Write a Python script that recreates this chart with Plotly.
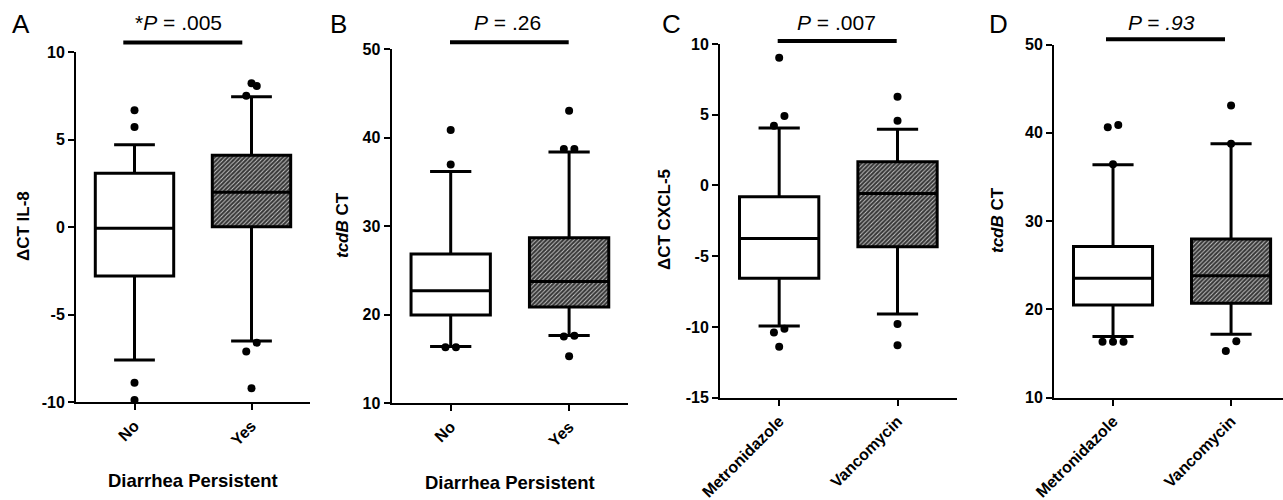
import plotly.graph_objects as go

W, H = 1283, 500
FONT = "Liberation Sans, Arial, Helvetica, sans-serif"

# ---------------- data ----------------
cats_persist = ["No", "Yes"]
cats_treat = ["Metronidazole", "Vancomycin"]

# Panel A: ΔCT IL-8 vs diarrhea persistent
a_q1 = [-2.78, 0.03]
a_median = [-0.06, 2.00]
a_q3 = [3.09, 4.11]
a_low = [-7.58, -6.50]
a_high = [4.72, 7.46]
a_out_no = [6.69, 5.73, -8.88, -9.87]
a_out_yes = [8.23, 8.07, 7.52, -6.59, -7.10, -9.20]

# Panel B: tcdB CT vs diarrhea persistent
b_q1 = [19.98, 20.88]
b_median = [22.72, 23.74]
b_q3 = [26.86, 28.70]
b_low = [16.40, 17.65]
b_high = [36.16, 38.37]
b_out_no = [40.86, 36.95, 16.33, 16.33]
b_out_yes = [43.04, 38.71, 38.71, 17.62, 17.55, 15.30]

# Panel C: ΔCT CXCL-5 vs treatment
c_q1 = [-6.56, -4.33]
c_median = [-3.74, -0.56]
c_q3 = [-0.79, 1.68]
c_low = [-9.93, -9.09]
c_high = [4.06, 3.97]
c_out_met = [9.03, 4.91, 4.23, -10.12, -10.40, -11.40]
c_out_van = [6.28, 4.58, -9.79, -11.30]

# Panel D: tcdB CT vs treatment
d_q1 = [20.51, 20.70]
d_median = [23.53, 23.80]
d_q3 = [27.13, 27.96]
d_low = [16.92, 17.18]
d_high = [36.39, 38.77]
d_out_met = [40.89, 40.62, 36.43, 16.35, 16.35, 16.35]
d_out_van = [43.08, 38.77, 16.39, 15.30]

p_texts = ["*<i>P</i> = .005", "<i>P</i> = .26", "<i>P</i> = .007", "<i>P = .93</i>"]
y_titles = ["ΔCT IL-8", "<i>tcdB</i> CT", "ΔCT CXCL-5", "<i>tcdB</i> CT"]
x_title = "Diarrhea Persistent"
letters = ["A", "B", "C", "D"]

# ---------------- layout spec (pixels) ----------------
panels = [
    dict(cats=cats_persist, q1=a_q1, med=a_median, q3=a_q3, lo=a_low, hi=a_high,
         outs=[a_out_no, a_out_yes], yr=[-10, 10], dt=5,
         xpx=(76, 310), ypx=(52.3, 402.3), xr=[-0.5, 1.5]),
    dict(cats=cats_persist, q1=b_q1, med=b_median, q3=b_q3, lo=b_low, hi=b_high,
         outs=[b_out_no, b_out_yes], yr=[10, 50], dt=10,
         xpx=(391.5, 628.3), ypx=(49, 403.3), xr=[-0.5, 1.5]),
    dict(cats=cats_treat, q1=c_q1, med=c_median, q3=c_q3, lo=c_low, hi=c_high,
         outs=[c_out_met, c_out_van], yr=[-15, 10], dt=5,
         xpx=(720, 956.7), ypx=(44, 397.7), xr=[-0.5, 1.5]),
    dict(cats=cats_treat, q1=d_q1, med=d_median, q3=d_q3, lo=d_low, hi=d_high,
         outs=[d_out_met, d_out_van], yr=[10, 50], dt=10,
         xpx=(1054, 1283), ypx=(44.5, 397.7), xr=[-0.5, 1.44]),
]

sig_bars = [(123.3, 242.3, 42.5), (450, 568.7, 42.3), (777.7, 896.7, 41.0), (1106, 1225, 39.3)]
p_pos = [(178, 22), (507, 22), (836, 22), (1161, 22)]
letter_pos = [(21, 24), (338, 24), (671, 24), (998, 24)]
ytitle_pos = [(24, 226), (343, 225), (665, 220), (998, 220)]
xtitle_pos = [(193, 480), (510, 482)]

BOX_W = 0.67
MARK = 8
SPREAD_PX = 10.5


def fx(p):
    return p / W


def fy(p):
    return 1 - p / H


def spread(values, ypx_per_unit, xpx_per_unit):
    """Place points that overlap vertically side by side (computed offsets)."""
    vals = sorted(values)
    clusters = []
    for v in vals:
        if clusters and (v - clusters[-1][0]) * ypx_per_unit < 10:
            clusters[-1].append(v)
        else:
            clusters.append([v])
    xs, ys = [], []
    for cl in clusters:
        n = len(cl)
        for i, v in enumerate(cl):
            xs.append((i - (n - 1) / 2) * SPREAD_PX / xpx_per_unit)
            ys.append(v)
    return xs, ys


fig = go.Figure()
layout = {}
for k, p in enumerate(panels):
    sfx = "" if k == 0 else str(k + 1)
    xa, ya = "x" + sfx, "y" + sfx
    x0, x1 = p["xpx"]
    yt, yb = p["ypx"]
    xpu = (x1 - x0) / (p["xr"][1] - p["xr"][0])
    ypu = (yb - yt) / (p["yr"][1] - p["yr"][0])
    for i in range(2):
        if i == 1:
            fig.add_trace(go.Bar(
                x=[i], y=[p["q3"][i] - p["q1"][i]], base=[p["q1"][i]], width=[BOX_W],
                marker=dict(color="#363636", line=dict(width=0),
                            pattern=dict(shape="/", fgcolor="#c4c4c4", bgcolor="#363636",
                                         size=3, solidity=0.33, fillmode="replace")),
                xaxis=xa, yaxis=ya, showlegend=False, hoverinfo="skip"))
        fig.add_trace(go.Box(
            x=[i], q1=[p["q1"][i]], median=[p["med"][i]], q3=[p["q3"][i]],
            lowerfence=[p["lo"][i]], upperfence=[p["hi"][i]],
            width=BOX_W, whiskerwidth=0.52, boxpoints=False,
            fillcolor="white" if i == 0 else "rgba(0,0,0,0)",
            line=dict(color="black", width=3),
            xaxis=xa, yaxis=ya, showlegend=False))
        ox, oy = spread(p["outs"][i], ypu, xpu)
        fig.add_trace(go.Scatter(
            x=[i + o for o in ox], y=oy, mode="markers",
            marker=dict(color="black", size=MARK, line=dict(width=0)),
            xaxis=xa, yaxis=ya, showlegend=False))
    ticks = list(range(p["yr"][0], p["yr"][1] + 1, p["dt"]))
    layout["xaxis" + sfx] = dict(
        domain=[fx(x0), fx(x1)], range=p["xr"], anchor=ya, automargin=False,
        tickvals=[0, 1], ticktext=p["cats"], tickangle=-45,
        tickfont=dict(family=FONT, size=16, color="black", weight="bold"),
        showline=True, linewidth=2, linecolor="black", ticks="outside",
        ticklen=6, tickwidth=2, tickcolor="black", showgrid=False, zeroline=False)
    layout["yaxis" + sfx] = dict(
        domain=[fy(yb), fy(yt)], range=p["yr"], anchor=xa, automargin=False,
        tickvals=ticks, ticktext=[str(t) for t in ticks],
        tickfont=dict(family=FONT, size=16, color="black", weight="bold"),
        showline=True, linewidth=2, linecolor="black", ticks="outside",
        ticklen=6, tickwidth=2, tickcolor="black", showgrid=False, zeroline=False)

shapes = []
for (a, b, y) in sig_bars:
    shapes.append(dict(type="line", xref="paper", yref="paper",
                       x0=fx(a), x1=fx(b), y0=fy(y), y1=fy(y),
                       line=dict(color="black", width=4)))

ann = []
for t, (x, y) in zip(p_texts, p_pos):
    ann.append(dict(text=t, x=fx(x), y=fy(y), xref="paper", yref="paper",
                    showarrow=False, xanchor="center", yanchor="middle",
                    font=dict(family=FONT, size=21, color="black")))
for t, (x, y) in zip(letters, letter_pos):
    ann.append(dict(text=t, x=fx(x), y=fy(y), xref="paper", yref="paper",
                    showarrow=False, xanchor="center", yanchor="middle",
                    font=dict(family=FONT, size=26, color="black")))
for t, (x, y) in zip(y_titles, ytitle_pos):
    ann.append(dict(text=t, x=fx(x), y=fy(y), xref="paper", yref="paper",
                    showarrow=False, xanchor="center", yanchor="middle", textangle=-90,
                    font=dict(family=FONT, size=17, color="black", weight="bold")))
for (x, y) in xtitle_pos:
    ann.append(dict(text=x_title, x=fx(x), y=fy(y), xref="paper", yref="paper",
                    showarrow=False, xanchor="center", yanchor="middle",
                    font=dict(family=FONT, size=18.5, color="black", weight="bold")))

fig.update_layout(
    width=W, height=H, margin=dict(l=0, r=0, t=0, b=0, autoexpand=False),
    paper_bgcolor="white", plot_bgcolor="white",
    showlegend=False, shapes=shapes, annotations=ann,
    boxmode="overlay", barmode="overlay", **layout)

fig.write_html("out.html")
